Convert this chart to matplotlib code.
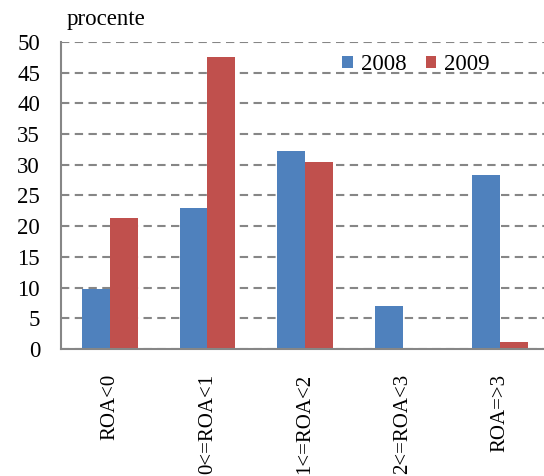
import matplotlib
matplotlib.use("Agg")
import matplotlib.pyplot as plt
import numpy as np

plt.rcParams['font.family'] = ['Liberation Serif', 'DejaVu Serif']

categories = ["ROA<0", "0<=ROA<1", "1<=ROA<2", "2<=ROA<3", "ROA=>3"]
vals_2008 = [9.8, 23.0, 32.2, 7.0, 28.3]
vals_2009 = [21.3, 47.6, 30.5, 0.15, 1.2]
yticks = list(range(0, 55, 5))

blue = "#4F81BD"
red = "#C0504D"
grid_col = "#868686"

fig = plt.figure(figsize=(5.44, 4.76), dpi=100)
ax = fig.add_axes([0.112, 0.2668, 0.897, 0.645])

x = np.arange(len(categories))
w = 0.285
ax.bar(x - w / 2, vals_2008, width=w, color=blue, label="2008", zorder=3)
ax.bar(x + w / 2, vals_2009, width=w, color=red, label="2009", zorder=3)

ax.set_xlim(-0.5, len(categories) - 0.5)
ax.set_ylim(0, 50)
ax.set_yticks(yticks)
ax.set_xticks(x)
ax.set_xticklabels(categories, rotation=90, fontsize=15)
ax.tick_params(axis="y", labelsize=16.5, length=0, pad=15)
ax.tick_params(axis="x", length=0, pad=18)

ax.yaxis.grid(True, color=grid_col, linewidth=1.5, dashes=(4, 2.6), zorder=0)
for s in ["top", "right"]:
    ax.spines[s].set_visible(False)
for s in ["left", "bottom"]:
    ax.spines[s].set_color(grid_col)
    ax.spines[s].set_linewidth(1.5)
    ax.spines[s].set_zorder(4)

fig.text(0.123, 0.948, "procente", fontsize=16.5, va="baseline", ha="left")

ax.legend(loc="upper left", bbox_to_anchor=(0.558, 0.99), ncol=2, frameon=False,
          fontsize=16.5, handlelength=0.45, handleheight=0.45, handletextpad=0.35,
          columnspacing=0.85, borderaxespad=0)

fig.savefig("out.png", dpi=100)
